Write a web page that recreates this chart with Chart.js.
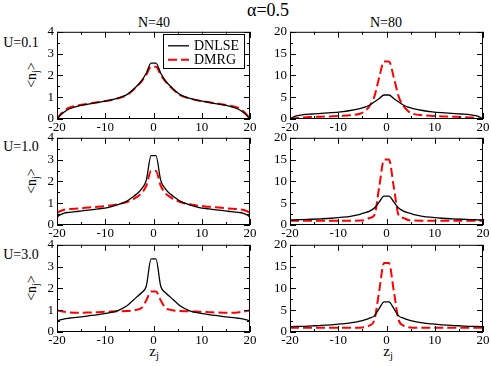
<!DOCTYPE html>
<html>
<head>
<meta charset="utf-8">
<script src="https://cdn.jsdelivr.net/npm/chart.js@4.4.1/dist/chart.umd.min.js"></script>
<style>
  body { margin: 0; background: #fff; width: 491px; height: 366px; position: relative; overflow: hidden;
         font-family: "Liberation Serif", "DejaVu Serif", "Noto Serif", Tinos, Times, serif; color: #000; }
  canvas { position: absolute; }
  .lbl { position: absolute; white-space: nowrap; transform: translate(-50%, -50%); line-height: 1; }
  .lbl sub { font-size: 70%; vertical-align: -0.35em; line-height: 0; }
  .rot { transform: translate(-50%, -50%) rotate(-90deg); }
</style>
</head>
<body>
<div class="lbl" style="left:268px;top:10px;font-size:18px">&alpha;=0.5</div>
<div class="lbl" style="left:154px;top:23px;font-size:14px">N=40</div>
<div class="lbl" style="left:386px;top:23px;font-size:14px">N=80</div>
<div class="lbl" style="left:21px;top:43px;font-size:14px">U=0.1</div>
<div class="lbl" style="left:21px;top:147px;font-size:14px">U=1.0</div>
<div class="lbl" style="left:21px;top:255px;font-size:14px">U=3.0</div>
<div class="lbl rot" style="left:32px;top:75px;font-size:14px">&lt;n<sub>j</sub>&gt;</div>
<div class="lbl rot" style="left:32px;top:181px;font-size:14px">&lt;n<sub>j</sub>&gt;</div>
<div class="lbl rot" style="left:32px;top:288px;font-size:14px">&lt;n<sub>j</sub>&gt;</div>
<div class="lbl" style="left:154px;top:351px;font-size:15px">z<sub>j</sub></div>
<div class="lbl" style="left:388px;top:351px;font-size:15px">z<sub>j</sub></div>

<script>
// site positions z_j
const zVals = [-20, -19.5, -18.5, -17.5, -15.5, -13.5, -11.5, -9.5, -7.5, -5.5, -4.5, -3.5, -2.5, -1.5, -0.5,
               0.5, 1.5, 2.5, 3.5, 4.5, 5.5, 7.5, 9.5, 11.5, 13.5, 15.5, 17.5, 18.5, 19.5, 20];

// N=40
const dnlseN40U01 = [0, 0.12, 0.32, 0.46, 0.6, 0.68, 0.76, 0.84, 0.95, 1.12, 1.3, 1.5, 1.75, 2.1, 2.56,
                     2.56, 2.1, 1.75, 1.5, 1.3, 1.12, 0.95, 0.84, 0.76, 0.68, 0.6, 0.46, 0.32, 0.12, 0];
const dmrgN40U01  = [0, 0.16, 0.38, 0.52, 0.63, 0.7, 0.77, 0.84, 0.94, 1.1, 1.27, 1.48, 1.72, 2.02, 2.4,
                     2.4, 2.02, 1.72, 1.48, 1.27, 1.1, 0.94, 0.84, 0.77, 0.7, 0.63, 0.52, 0.38, 0.16, 0];
const dnlseN40U10 = [0.35, 0.45, 0.55, 0.58, 0.63, 0.68, 0.74, 0.8, 0.92, 1.1, 1.25, 1.42, 1.65, 2.05, 3.18,
                     3.18, 2.05, 1.65, 1.42, 1.25, 1.1, 0.92, 0.8, 0.74, 0.68, 0.63, 0.58, 0.55, 0.45, 0.35];
const dmrgN40U10  = [0.55, 0.62, 0.7, 0.73, 0.76, 0.8, 0.84, 0.88, 0.95, 1.05, 1.15, 1.28, 1.45, 1.8, 2.48,
                     2.48, 1.8, 1.45, 1.28, 1.15, 1.05, 0.95, 0.88, 0.84, 0.8, 0.76, 0.73, 0.7, 0.62, 0.55];
const dnlseN40U30 = [0.5, 0.55, 0.6, 0.63, 0.68, 0.74, 0.8, 0.87, 0.97, 1.2, 1.4, 1.6, 1.8, 2.1, 3.35,
                     3.35, 2.1, 1.8, 1.6, 1.4, 1.2, 0.97, 0.87, 0.8, 0.74, 0.68, 0.63, 0.6, 0.55, 0.5];
const dmrgN40U30  = [1.0, 0.97, 0.93, 0.9, 0.88, 0.89, 0.91, 0.93, 0.95, 0.96, 0.98, 1.02, 1.1, 1.45, 1.86,
                     1.86, 1.45, 1.1, 1.02, 0.98, 0.96, 0.95, 0.93, 0.91, 0.89, 0.88, 0.9, 0.93, 0.97, 1.0];

// N=80
const dnlseN80U01 = [0, 0.35, 0.75, 0.95, 1.15, 1.3, 1.45, 1.65, 1.95, 2.4, 2.7, 3.2, 3.95, 4.7, 5.5,
                     5.5, 4.7, 3.95, 3.2, 2.7, 2.4, 1.95, 1.65, 1.45, 1.3, 1.15, 0.95, 0.75, 0.35, 0];
const dmrgN80U01  = [0, 0.1, 0.25, 0.35, 0.45, 0.52, 0.6, 0.7, 0.85, 1.2, 1.8, 3.0, 5.2, 9.6, 13.2,
                     13.2, 9.6, 5.2, 3.0, 1.8, 1.2, 0.85, 0.7, 0.6, 0.52, 0.45, 0.35, 0.25, 0.1, 0];
const dnlseN80U10 = [1.1, 1.15, 1.2, 1.25, 1.32, 1.42, 1.55, 1.75, 2.0, 2.45, 2.8, 3.2, 3.9, 5.3, 6.6,
                     6.6, 5.3, 3.9, 3.2, 2.8, 2.45, 2.0, 1.75, 1.55, 1.42, 1.32, 1.25, 1.2, 1.15, 1.1];
const dmrgN80U10  = [1.0, 0.98, 0.97, 0.96, 0.96, 0.96, 0.97, 0.98, 0.99, 1.02, 1.15, 1.6, 2.3, 8.8, 15,
                     15, 8.8, 2.3, 1.6, 1.15, 1.02, 0.99, 0.98, 0.97, 0.96, 0.96, 0.96, 0.97, 0.98, 1.0];
const dnlseN80U30 = [1.2, 1.25, 1.28, 1.3, 1.4, 1.5, 1.65, 1.85, 2.1, 2.5, 2.8, 3.2, 3.7, 5.4, 6.9,
                     6.9, 5.4, 3.7, 3.2, 2.8, 2.5, 2.1, 1.85, 1.65, 1.5, 1.4, 1.3, 1.28, 1.25, 1.2];
const dmrgN80U30  = [1.0, 0.98, 0.97, 0.96, 0.96, 0.96, 0.97, 0.98, 0.99, 1.0, 1.1, 1.5, 2.8, 9.5, 15.8,
                     15.8, 9.5, 2.8, 1.5, 1.1, 1.0, 0.99, 0.98, 0.97, 0.96, 0.96, 0.96, 0.97, 0.98, 1.0];

const xTicks = [-20, -10, 0, 10, 20];
const xMinor = [-15, -5, 5, 15];
const seriesNames = ['DNLSE', 'DMRG'];

const FONT = '"Liberation Serif", "DejaVu Serif", "Noto Serif", Tinos, Times, serif';
Chart.defaults.font.family = FONT;
Chart.defaults.font.size = 13;
Chart.defaults.color = '#000';

// box + inward ticks on all four sides
const frame = {
  id: 'frame',
  afterDatasetsDraw(chart) {
    const { ctx, chartArea: a, scales: { x, y } } = chart;
    ctx.save();
    ctx.strokeStyle = '#000';
    ctx.lineWidth = 1;
    ctx.strokeRect(a.left + 0.5, a.top + 0.5, a.right - a.left - 1, a.bottom - a.top - 1);
    ctx.beginPath();
    const tx = (v, len) => {
      const p = Math.round(x.getPixelForValue(v)) + 0.5;
      ctx.moveTo(p, a.bottom); ctx.lineTo(p, a.bottom - len);
      ctx.moveTo(p, a.top); ctx.lineTo(p, a.top + len);
    };
    const ty = (v, len) => {
      const p = Math.round(y.getPixelForValue(v)) + 0.5;
      ctx.moveTo(a.left, p); ctx.lineTo(a.left + len, p);
      ctx.moveTo(a.right, p); ctx.lineTo(a.right - len, p);
    };
    xTicks.forEach(v => tx(v, 6));
    xMinor.forEach(v => tx(v, 3));
    const ys = y.ticks.map(t => t.value);
    ys.forEach(v => ty(v, 6));
    for (let i = 0; i < ys.length - 1; i++) ty((ys[i] + ys[i + 1]) / 2, 3);
    ctx.stroke();
    ctx.restore();
  }
};

const legendBox = {
  id: 'legendBox',
  afterDraw(chart) {
    const { ctx, chartArea: a } = chart;
    const w = 81, h = 34;
    const bx = a.right - 6 - w, by = a.top + 2;
    ctx.save();
    ctx.fillStyle = '#fff';
    ctx.fillRect(bx, by, w, h);
    ctx.strokeStyle = '#000';
    ctx.lineWidth = 1;
    ctx.strokeRect(Math.round(bx) + 0.5, Math.round(by) + 0.5, w, h);
    ctx.font = '14px ' + FONT;
    ctx.textBaseline = 'middle';
    chart.data.datasets.forEach((ds, i) => {
      const ly = by + 12 + i * 14;
      ctx.beginPath();
      ctx.strokeStyle = ds.borderColor;
      ctx.lineWidth = ds.borderWidth;
      ctx.setLineDash(ds.borderDash || []);
      ctx.moveTo(bx + 5, ly); ctx.lineTo(bx + 26, ly);
      ctx.stroke();
      ctx.setLineDash([]);
      ctx.fillStyle = '#000';
      ctx.fillText(ds.label, bx + 31, ly + 1);
    });
    ctx.restore();
  }
};

const AXW = 30, AXH = 18, PADT = 10, PADR = 10;

function makePanel(L, T, yMax, yStep, dnlse, dmrg, withLegend) {
  const W = 193, H = 88;
  const cv = document.createElement('canvas');
  cv.width = W + AXW + PADR;
  cv.height = H + AXH + PADT;
  cv.style.left = (L - AXW) + 'px';
  cv.style.top = (T - PADT) + 'px';
  document.body.appendChild(cv);
  const pts = arr => zVals.map((z, i) => ({ x: z, y: arr[i] }));
  new Chart(cv, {
    type: 'line',
    data: {
      datasets: [
        { label: seriesNames[0], data: pts(dnlse), borderColor: '#000', borderWidth: 1.3 },
        { label: seriesNames[1], data: pts(dmrg), borderColor: '#ff0000', borderWidth: 2, borderDash: [9, 4] }
      ]
    },
    options: {
      responsive: false,
      animation: false,
      devicePixelRatio: 1,
      layout: { padding: { top: PADT, right: PADR, left: 0, bottom: 0 } },
      elements: { point: { radius: 0 }, line: { cubicInterpolationMode: 'monotone' } },
      plugins: { legend: { display: false }, tooltip: { enabled: false } },
      scales: {
        x: {
          type: 'linear', min: -20, max: 20,
          afterBuildTicks: s => { s.ticks = xTicks.map(v => ({ value: v })); },
          afterFit: s => { s.height = AXH; },
          ticks: { padding: 1, maxRotation: 0, autoSkip: false },
          grid: { display: false, drawTicks: false },
          border: { display: false }
        },
        y: {
          min: 0, max: yMax,
          afterFit: s => { s.width = AXW; },
          ticks: { stepSize: yStep, padding: 3 },
          grid: { display: false, drawTicks: false },
          border: { display: false }
        }
      }
    },
    plugins: withLegend ? [frame, legendBox] : [frame]
  });
}

makePanel(57, 31, 4, 1, dnlseN40U01, dmrgN40U01, true);
makePanel(290, 31, 20, 5, dnlseN80U01, dmrgN80U01, false);
makePanel(57, 137, 4, 1, dnlseN40U10, dmrgN40U10, false);
makePanel(290, 137, 20, 5, dnlseN80U10, dmrgN80U10, false);
makePanel(57, 244, 4, 1, dnlseN40U30, dmrgN40U30, false);
makePanel(290, 244, 20, 5, dnlseN80U30, dmrgN80U30, false);
</script>
</body>
</html>
